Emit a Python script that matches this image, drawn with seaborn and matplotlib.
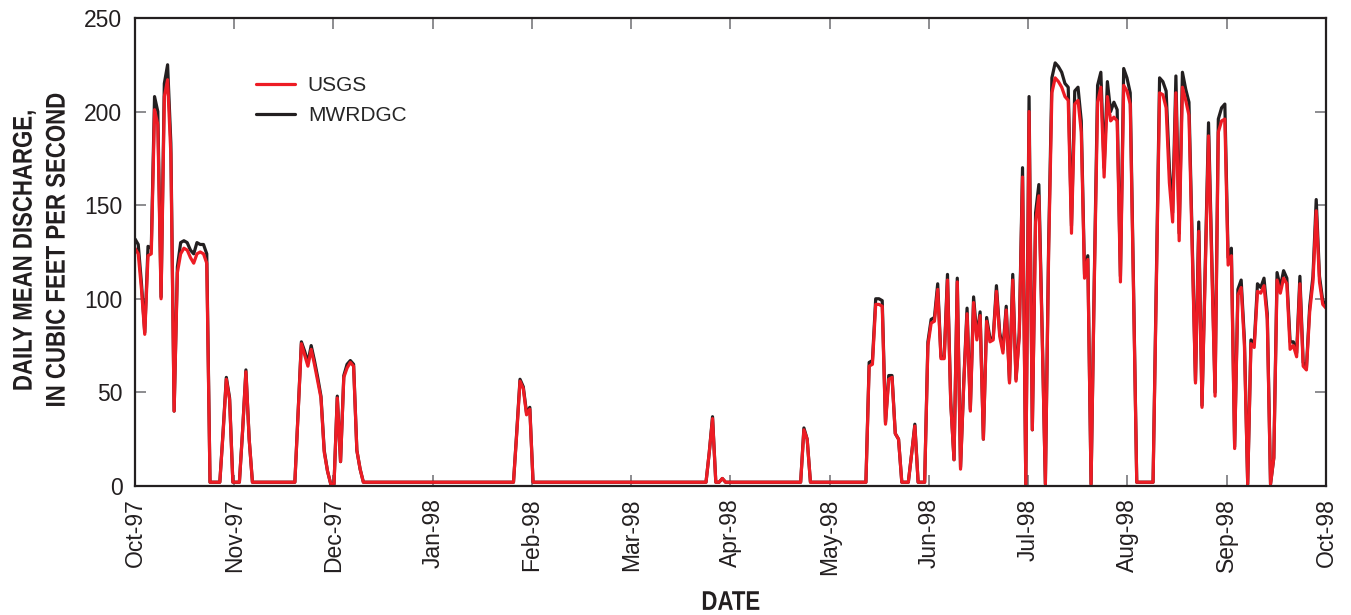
import numpy as np
import pandas as pd
import matplotlib
matplotlib.use("Agg")
import matplotlib.pyplot as plt
from matplotlib.patheffects import AbstractPathEffect
from matplotlib.transforms import Affine2D
import seaborn as sns

# Daily mean discharge, 1 Oct 1997 through 1 Oct 1998 (cubic feet per second)
month_labels = ["Oct-97", "Nov-97", "Dec-97", "Jan-98", "Feb-98", "Mar-98", "Apr-98",
                "May-98", "Jun-98", "Jul-98", "Aug-98", "Sep-98", "Oct-98"]

usgs = [
    # Oct 1997
    127, 124, 105, 81, 123, 124, 201, 193, 100, 208, 217, 177, 40, 114, 124, 127,
    126, 122, 119, 124, 125, 124, 119, 2, 2, 2, 2, 28, 57, 46, 2,
    # Nov 1997
    2, 2, 30, 61, 25, 2, 2, 2, 2, 2, 2, 2, 2, 2, 2, 2, 2, 2, 2,
    39, 76, 70, 64, 73, 65, 56, 47, 18, 8, 1,
    # Dec 1997
    1, 47, 13, 58, 63, 66, 64, 19, 9, 2, 2, 2, 2, 2, 2, 2,
    2, 2, 2, 2, 2, 2, 2, 2, 2, 2, 2, 2, 2, 2, 2,
    # Jan 1998
    2, 2, 2, 2, 2, 2, 2, 2, 2, 2, 2, 2, 2, 2, 2, 2,
    2, 2, 2, 2, 2, 2, 2, 2, 2, 28, 56, 52, 38, 41, 2,
    # Feb 1998
    2, 2, 2, 2, 2, 2, 2, 2, 2, 2, 2, 2, 2, 2,
    2, 2, 2, 2, 2, 2, 2, 2, 2, 2, 2, 2, 2, 2,
    # Mar 1998
    2, 2, 2, 2, 2, 2, 2, 2, 2, 2, 2, 2, 2, 2, 2, 2,
    2, 2, 2, 2, 2, 2, 2, 2, 2, 18, 36, 2, 2, 4, 2,
    # Apr 1998
    2, 2, 2, 2, 2, 2, 2, 2, 2, 2, 2, 2, 2, 2, 2,
    2, 2, 2, 2, 2, 2, 2, 2, 30, 25, 2, 2, 2, 2, 2,
    # May 1998
    2, 2, 2, 2, 2, 2, 2, 2, 2, 2, 2, 2, 2, 64, 65, 97,
    97, 96, 33, 57, 58, 28, 25, 2, 2, 2, 17, 32, 2, 2, 2,
    # Jun 1998
    75, 87, 88, 105, 68, 68, 110, 44, 14, 109, 9, 55, 92, 40, 98,
    78, 91, 25, 88, 77, 78, 104, 80, 71, 94, 55, 110, 56, 80, 165,
    # Jul 1998
    1, 200, 30, 141, 155, 82, 1, 125, 210, 218, 216, 213, 208, 206, 135, 204,
    206, 189, 111, 121, 1, 109, 205, 213, 165, 208, 195, 197, 195, 109, 214,
    # Aug 1998
    211, 204, 105, 2, 2, 2, 2, 2, 2, 106, 210, 209, 202, 162, 141, 210,
    131, 213, 206, 198, 127, 55, 136, 42, 115, 187, 118, 48, 189, 195, 196,
    # Sep 1998
    118, 123, 20, 102, 106, 75, 1, 76, 74, 104, 103, 107, 89, 1, 15,
    110, 103, 111, 108, 73, 75, 69, 108, 64, 62, 93, 109, 147, 109, 97,
    # Oct 1998
    95,
]

mwrdgc = [
    # Oct 1997
    132, 129, 108, 82, 128, 127, 208, 200, 101, 215, 225, 183, 40, 117, 130, 131,
    130, 126, 124, 130, 129, 129, 124, 2, 2, 2, 2, 29, 58, 47, 2,
    # Nov 1997
    2, 2, 30, 62, 25, 2, 2, 2, 2, 2, 2, 2, 2, 2, 2, 2, 2, 2, 2,
    40, 77, 72, 66, 75, 67, 58, 48, 19, 8, 1,
    # Dec 1997
    1, 48, 13, 59, 65, 67, 65, 19, 9, 2, 2, 2, 2, 2, 2, 2,
    2, 2, 2, 2, 2, 2, 2, 2, 2, 2, 2, 2, 2, 2, 2,
    # Jan 1998
    2, 2, 2, 2, 2, 2, 2, 2, 2, 2, 2, 2, 2, 2, 2, 2,
    2, 2, 2, 2, 2, 2, 2, 2, 2, 29, 57, 53, 39, 42, 2,
    # Feb 1998
    2, 2, 2, 2, 2, 2, 2, 2, 2, 2, 2, 2, 2, 2,
    2, 2, 2, 2, 2, 2, 2, 2, 2, 2, 2, 2, 2, 2,
    # Mar 1998
    2, 2, 2, 2, 2, 2, 2, 2, 2, 2, 2, 2, 2, 2, 2, 2,
    2, 2, 2, 2, 2, 2, 2, 2, 2, 18, 37, 2, 2, 4, 2,
    # Apr 1998
    2, 2, 2, 2, 2, 2, 2, 2, 2, 2, 2, 2, 2, 2, 2,
    2, 2, 2, 2, 2, 2, 2, 2, 31, 25, 2, 2, 2, 2, 2,
    # May 1998
    2, 2, 2, 2, 2, 2, 2, 2, 2, 2, 2, 2, 2, 66, 67, 100,
    100, 99, 34, 59, 59, 28, 25, 2, 2, 2, 17, 33, 2, 2, 2,
    # Jun 1998
    77, 89, 90, 108, 69, 69, 113, 45, 14, 111, 10, 56, 95, 41, 101,
    80, 93, 25, 90, 79, 79, 107, 82, 73, 96, 56, 113, 57, 82, 170,
    # Jul 1998
    1, 208, 30, 146, 161, 84, 1, 129, 218, 226, 224, 221, 215, 213, 139, 211,
    213, 195, 113, 123, 1, 112, 214, 221, 170, 216, 200, 205, 201, 112, 223,
    # Aug 1998
    218, 210, 108, 2, 2, 2, 2, 2, 2, 110, 218, 216, 211, 170, 146, 219,
    135, 221, 212, 205, 131, 56, 141, 43, 119, 194, 122, 50, 196, 202, 204,
    # Sep 1998
    122, 127, 21, 105, 110, 78, 1, 78, 76, 108, 106, 111, 92, 1, 15,
    114, 106, 115, 111, 77, 77, 71, 112, 66, 63, 96, 112, 153, 112, 99,
    # Oct 1998
    97,
]

dates = pd.date_range("1997-10-01", "1998-10-01", freq="D")
df = pd.DataFrame({"day": np.arange(len(dates)), "USGS": usgs, "MWRDGC": mwrdgc})

RED = "#ed1c24"
BLACK = "#231f20"


class Narrow(AbstractPathEffect):
    """Squeeze each text line along its baseline, about the line's centre."""

    def __init__(self, factor=0.82):
        super().__init__()
        self.factor = factor

    def draw_path(self, renderer, gc, tpath, affine, rgbFace=None):
        xs = tpath.vertices[:, 0]
        mid = 0.5 * (xs.min() + xs.max()) if len(xs) else 0.0
        squeeze = Affine2D().translate(-mid, 0).scale(self.factor, 1).translate(mid, 0)
        renderer.draw_path(gc, tpath, squeeze + affine, rgbFace)


sns.set_style("ticks")
plt.rcParams["font.family"] = ["Liberation Sans", "DejaVu Sans"]

fig = plt.figure(figsize=(13.51, 6.15), dpi=100)
ax = fig.add_axes([0.0999, 0.2098, 0.8816, 0.761])

sns.lineplot(data=df, x="day", y="MWRDGC", color=BLACK, lw=2.3, ax=ax, label="MWRDGC")
sns.lineplot(data=df, x="day", y="USGS", color=RED, lw=2.3, ax=ax, label="USGS")

ax.set_xlim(0, 365)
ax.set_ylim(0, 250)
ax.set_xticks(np.linspace(0, 365, 13))
ax.set_xticklabels(month_labels, rotation=90)
ax.set_yticks(range(0, 251, 50))

ax.tick_params(axis="both", direction="in", top=True, right=True, length=8,
               width=1.1, color="#6d6e71", labelsize=16.5, labelcolor=BLACK, pad=9)
for sp in ax.spines.values():
    sp.set_linewidth(1.6)
    sp.set_color(BLACK)

label_font = dict(family=["Liberation Sans", "DejaVu Sans"], weight="bold",
                  size=19.5, color=BLACK)
ylab = ax.set_ylabel("DAILY MEAN DISCHARGE,\nIN CUBIC FEET PER SECOND",
                     linespacing=1.35, **label_font)
ax.yaxis.set_label_coords(-0.054, 0.505)
xlab = ax.set_xlabel("DATE", **label_font)
ax.xaxis.set_label_coords(0.5004, -0.222)
for t in (ylab, xlab):
    t.set_path_effects([Narrow(0.82)])

handles, labels = ax.get_legend_handles_labels()
order = [labels.index("USGS"), labels.index("MWRDGC")]
ax.legend([handles[i] for i in order], [labels[i] for i in order],
          loc="upper left", bbox_to_anchor=(0.0856, 0.915), frameon=False,
          fontsize=15, handlelength=1.9, handletextpad=0.6, labelspacing=0.5,
          borderpad=0.4)

fig.savefig("out.png", dpi=100)
